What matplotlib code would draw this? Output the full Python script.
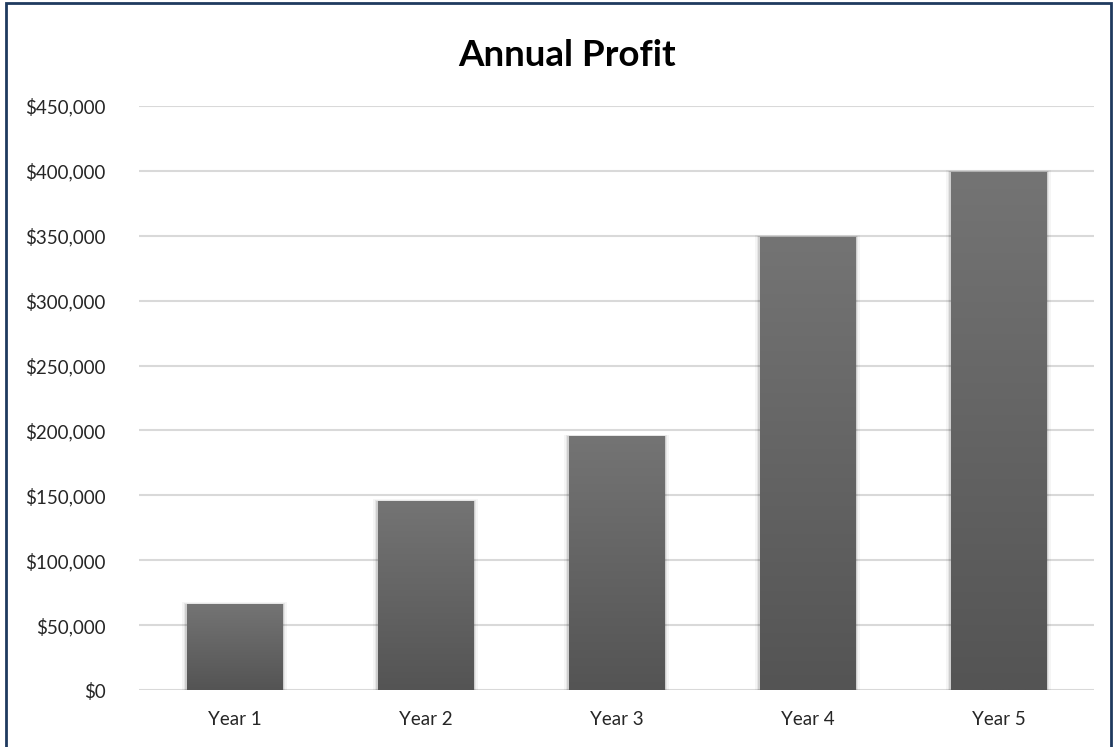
import numpy as np
import matplotlib
matplotlib.use('Agg')
import matplotlib.pyplot as plt
from matplotlib.patches import Rectangle
from matplotlib.ticker import FuncFormatter

years = ['Year 1', 'Year 2', 'Year 3', 'Year 4', 'Year 5']
profit = [66000, 145000, 195000, 349000, 399000]
yticks = [0, 50000, 100000, 150000, 200000, 250000, 300000, 350000, 400000, 450000]

plt.rcParams['font.family'] = ['Lato', 'DejaVu Sans']

W, H = 1117, 747
fig = plt.figure(figsize=(W / 100, H / 100), dpi=100)
fig.patch.set_facecolor('white')

# outer navy border of the chart box
fig.add_artist(Rectangle((6 / W, -0.01), (1111 - 6) / W, (H - 3) / H + 0.01,
                         transform=fig.transFigure, fill=False,
                         edgecolor='#1f3a5f', linewidth=2))

ax = fig.add_axes([139 / W, (H - 690) / H, (1094 - 139) / W, (690 - 106) / H])

ax.set_yticks(yticks)
ax.yaxis.set_major_formatter(FuncFormatter(lambda v, p: '${:,.0f}'.format(v)))
ax.set_xticks(range(len(years)))
ax.set_xticklabels(years)
ax.tick_params(axis='both', length=0, labelsize=13.5, colors='#262626')
ax.tick_params(axis='y', pad=24)
ax.tick_params(axis='x', pad=15)
for s in ax.spines.values():
    s.set_visible(False)
ax.grid(axis='y', color='#d9d9d9', linewidth=1.5, zorder=0)
ax.set_axisbelow(True)

bw = 0.5
grad = np.linspace(0, 1, 256).reshape(-1, 1)
cmap = matplotlib.colors.LinearSegmentedColormap.from_list('g', ['#545454', '#747474'])
for i, v in enumerate(profit):
    # soft shadow
    for k, a in zip([0.06, 0.04, 0.02], [0.04, 0.06, 0.1]):
        ax.add_patch(Rectangle((i - bw / 2 - k * 0.4, -2500), bw + k * 0.8, v + 2500 + k * 30000,
                               facecolor='black', edgecolor='none', alpha=a, zorder=2))
    ax.imshow(grad, cmap=cmap, extent=(i - bw / 2, i + bw / 2, 0, v),
              origin='lower', aspect='auto', zorder=3)
ax.set_xlim(-0.5, len(years) - 0.5)
ax.set_ylim(0, 450000)

fig.text(567 / W, 1 - 55 / H, 'Annual Profit', ha='center', va='center',
         fontsize=26.5, fontweight='bold', color='black')

fig.savefig('out.png', dpi=100)
